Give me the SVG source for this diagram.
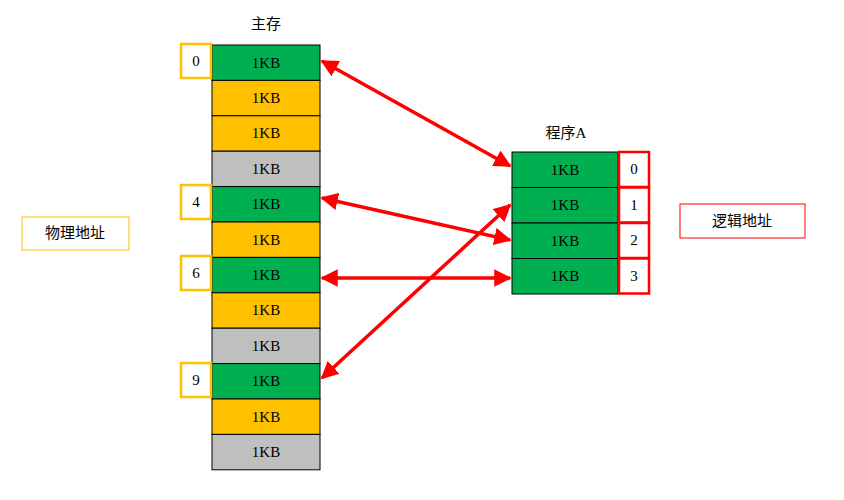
<svg xmlns="http://www.w3.org/2000/svg" width="844" height="500" viewBox="0 0 844 500">
<style>
text{font-family:"Liberation Serif","Noto Sans CJK SC",serif;font-size:15px;text-anchor:middle;dominant-baseline:central;fill:#000}
.g{fill:#00B050;stroke:#000;stroke-width:1}
.o{fill:#FFC000;stroke:#000;stroke-width:1}
.s{fill:#BFBFBF;stroke:#000;stroke-width:1}
.ib{fill:#fff;stroke:#FFC000;stroke-width:2.5}
.rb{fill:#fff;stroke:#FF0000;stroke-width:2.5}
.c{stroke:#FF0000;stroke-width:3.5;fill:none;marker-start:url(#a);marker-end:url(#a)}
</style>
<defs>
<marker id="a" viewBox="0 0 10 10" refX="9" refY="5" markerWidth="5" markerHeight="5" orient="auto-start-reverse" markerUnits="strokeWidth"><path d="M0,0L10,5L0,10z" fill="#FF0000"/></marker>
</defs>
<text x="266" y="24" font-size="17">主存</text>
<g id="memory">
<rect class="g" x="212" y="45" width="108" height="35.4"/><text x="266" y="63">1KB</text>
<rect class="o" x="212" y="80.4" width="108" height="35.4"/><text x="266" y="98">1KB</text>
<rect class="o" x="212" y="115.8" width="108" height="35.4"/><text x="266" y="133">1KB</text>
<rect class="s" x="212" y="151.2" width="108" height="35.4"/><text x="266" y="169">1KB</text>
<rect class="g" x="212" y="186.6" width="108" height="35.4"/><text x="266" y="204">1KB</text>
<rect class="o" x="212" y="222" width="108" height="35.4"/><text x="266" y="240">1KB</text>
<rect class="g" x="212" y="257.4" width="108" height="35.4"/><text x="266" y="275">1KB</text>
<rect class="o" x="212" y="292.8" width="108" height="35.4"/><text x="266" y="310">1KB</text>
<rect class="s" x="212" y="328.2" width="108" height="35.4"/><text x="266" y="346">1KB</text>
<rect class="g" x="212" y="363.6" width="108" height="35.4"/><text x="266" y="381">1KB</text>
<rect class="o" x="212" y="399" width="108" height="35.4"/><text x="266" y="417">1KB</text>
<rect class="s" x="212" y="434.4" width="108" height="35.4"/><text x="266" y="452">1KB</text>
</g>
<g id="idx0"><rect class="ib" x="181" y="44" width="30" height="34"/><text x="196" y="61" font-size="16">0</text></g>
<g id="idx4"><rect class="ib" x="181" y="185" width="30" height="34"/><text x="196" y="202" font-size="16">4</text></g>
<g id="idx6"><rect class="ib" x="181" y="256" width="30" height="34"/><text x="196" y="273" font-size="16">6</text></g>
<g id="idx9"><rect class="ib" x="181" y="363" width="30" height="34"/><text x="196" y="380" font-size="16">9</text></g>
<text x="566" y="133" font-size="17">程序A</text>
<g id="progA">
<rect class="g" x="512" y="152" width="106" height="35.5"/><text x="565" y="170">1KB</text>
<rect class="g" x="512" y="187.5" width="106" height="35.5"/><text x="565" y="205">1KB</text>
<rect class="g" x="512" y="223" width="106" height="35.5"/><text x="565" y="241">1KB</text>
<rect class="g" x="512" y="258.5" width="106" height="35.5"/><text x="565" y="276">1KB</text>
</g>
<g id="lidx">
<rect class="rb" x="619" y="152" width="30" height="35"/><text x="634" y="169" font-size="16">0</text>
<rect class="rb" x="619" y="187.5" width="30" height="35"/><text x="634" y="205" font-size="16">1</text>
<rect class="rb" x="619" y="223" width="30" height="35"/><text x="634" y="240" font-size="16">2</text>
<rect class="rb" x="619" y="258.5" width="30" height="35"/><text x="634" y="276" font-size="16">3</text>
</g>
<g id="phys"><rect x="22" y="217" width="107" height="33" fill="#fff" stroke="#FFC000" stroke-width="1"/><text x="75" y="233" font-size="18">物理地址</text></g>
<g id="logic"><rect x="680" y="204" width="125" height="34" fill="#fff" stroke="#FF0000" stroke-width="1"/><text x="742" y="221" font-size="18">逻辑地址</text></g>
<g id="connectors">
<line class="c" x1="322" y1="61" x2="510" y2="166"/>
<line class="c" x1="322" y1="198" x2="510" y2="240"/>
<line class="c" x1="322" y1="278" x2="510" y2="278"/>
<line class="c" x1="322" y1="378" x2="510" y2="205"/>
</g>
</svg>
